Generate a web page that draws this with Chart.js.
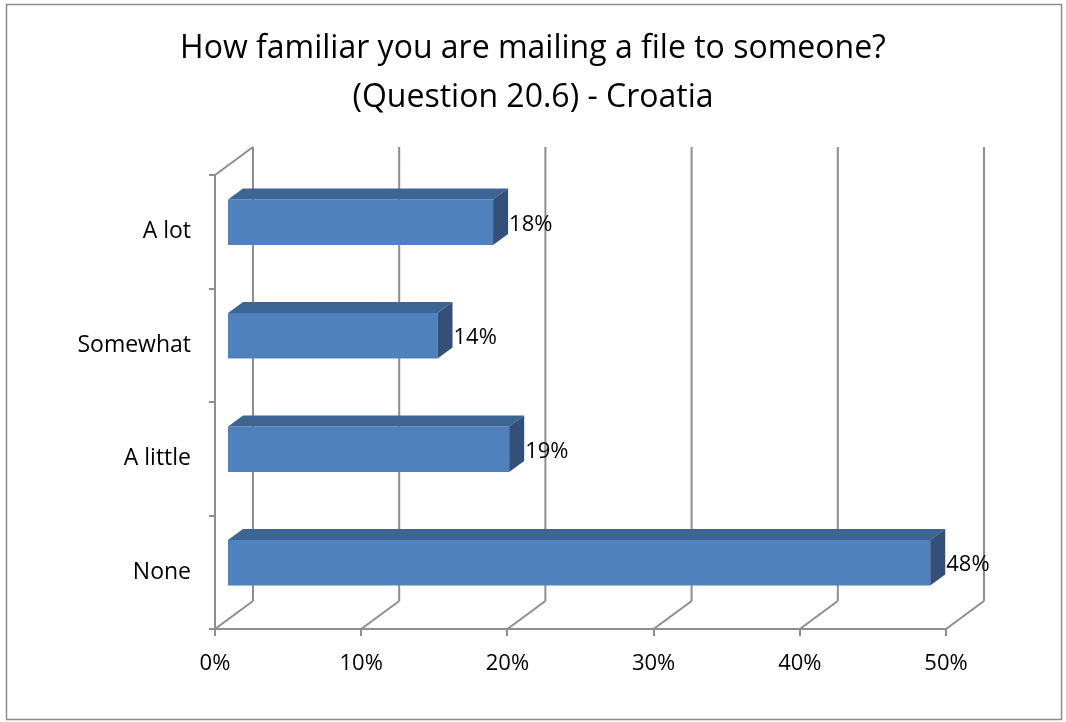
<!DOCTYPE html>
<html>
<head>
<meta charset="utf-8">
<script src="https://cdn.jsdelivr.net/npm/chart.js@4"></script>
<style>
  body { margin: 0; background: #fff; }
</style>
</head>
<body>
<canvas id="myChart" width="1066" height="722"></canvas>
<script>
const categories = ['A lot', 'Somewhat', 'A little', 'None'];
const values = [18.2, 14.4, 19.3, 48.1];
const valueLabels = ['18%', '14%', '19%', '48%'];
const titleLines = ['How familiar you are mailing a file to someone?', '(Question 20.6) - Croatia'];

const FONT = '"Open Sans", sans-serif';
const gridColor = '#8e8e8e';
const wallDX = 38, wallDY = -28;   // depth of the back wall
const barDX = 15, barDY = -11;     // depth of each bar
const barShiftX = 12, barShiftY = -9.5;

const threeD = {
  id: 'threeD',
  afterLayout(chart) {
    // centre the title on the whole canvas, not on the padded box
    const t = chart.titleBlock;
    if (t) { t.left = 0; t.right = chart.width; t.width = chart.width; }
  },
  beforeDraw(chart) {
    const ctx = chart.ctx;
    ctx.save();
    ctx.fillStyle = '#fff';
    ctx.fillRect(0, 0, chart.width, chart.height);
    ctx.strokeStyle = '#8c8c8c';
    ctx.lineWidth = 1.5;
    ctx.strokeRect(6.5, 4.5, 1055, 715);
    ctx.restore();
  },
  beforeDatasetsDraw(chart) {
    const ctx = chart.ctx;
    const a = chart.chartArea;
    const xs = chart.scales.x;
    ctx.save();
    ctx.strokeStyle = gridColor;
    ctx.lineWidth = 2;
    ctx.beginPath();
    xs.ticks.forEach(t => {
      const px = xs.getPixelForValue(t.value);
      ctx.moveTo(px + wallDX, a.top + wallDY);
      ctx.lineTo(px + wallDX, a.bottom + wallDY);
      ctx.moveTo(px, a.bottom);
      ctx.lineTo(px + wallDX, a.bottom + wallDY);
    });
    ctx.moveTo(a.left, a.top);
    ctx.lineTo(a.left + wallDX, a.top + wallDY);
    ctx.stroke();
    ctx.restore();
    ctx.save();
    ctx.translate(barShiftX, barShiftY);
  },
  afterDatasetsDraw(chart) {
    const ctx = chart.ctx;
    ctx.restore();
    const meta = chart.getDatasetMeta(0);
    ctx.save();
    meta.data.forEach((bar, i) => {
      const left = bar.base + barShiftX;
      const right = bar.x + barShiftX;
      const top = bar.y - bar.height / 2 + barShiftY;
      const bottom = bar.y + bar.height / 2 + barShiftY;
      ctx.fillStyle = '#3c6593';
      ctx.beginPath();
      ctx.moveTo(left, top);
      ctx.lineTo(left + barDX, top + barDY);
      ctx.lineTo(right + barDX, top + barDY);
      ctx.lineTo(right, top);
      ctx.closePath();
      ctx.fill();
      ctx.fillStyle = '#344f78';
      ctx.beginPath();
      ctx.moveTo(right, top);
      ctx.lineTo(right + barDX, top + barDY);
      ctx.lineTo(right + barDX, bottom + barDY);
      ctx.lineTo(right, bottom);
      ctx.closePath();
      ctx.fill();
      ctx.fillStyle = '#000';
      ctx.font = '22px ' + FONT;
      ctx.textBaseline = 'middle';
      ctx.textAlign = 'left';
      ctx.fillText(valueLabels[i], right + barDX + 1, bar.y + barShiftY + 2);
    });
    ctx.restore();
  }
};

const config = {
  type: 'bar',
  data: {
    labels: categories,
    datasets: [{
      data: values,
      backgroundColor: '#4f81bd',
      borderWidth: 0,
      categoryPercentage: 1,
      barPercentage: 0.4,
      clip: false,
    }],
  },
  options: {
    indexAxis: 'y',
    responsive: false,
    animation: false,
    layout: { padding: { left: 0, right: 120, top: 0, bottom: 0 } },
    plugins: {
      legend: { display: false },
      tooltip: { enabled: false },
      title: {
        display: true,
        text: titleLines,
        color: '#000',
        font: { family: FONT, size: 32, weight: 'normal', lineHeight: '49px' },
        padding: { top: 24.5, bottom: 52.5 },
      },
    },
    scales: {
      x: {
        min: 0,
        max: 50,
        ticks: {
          stepSize: 10,
          color: '#000',
          font: { family: FONT, size: 22 },
          padding: 15,
          callback: v => v + '%',
        },
        grid: { drawOnChartArea: false, color: gridColor, lineWidth: 2, tickLength: 7 },
        border: { color: gridColor, width: 2 },
        afterFit: s => { s.height = 93; },
      },
      y: {
        ticks: {
          color: '#000',
          font: { family: FONT, size: 23 },
          padding: 18,
        },
        grid: { drawOnChartArea: false, color: gridColor, lineWidth: 2, tickLength: 6, offset: true },
        border: { color: gridColor, width: 2 },
        afterFit: s => { s.width = 215; },
      },
    },
  },
  plugins: [threeD],
};

new Chart(document.querySelector('#myChart'), config);
</script>
</body>
</html>
